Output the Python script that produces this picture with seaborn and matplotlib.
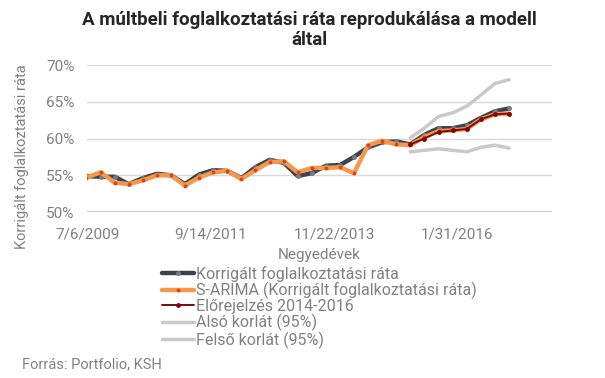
import numpy as np
import pandas as pd
import matplotlib.pyplot as plt
import matplotlib.ticker as mticker
import seaborn as sns

# Quarterly data, 2009 Q3 - 2017 Q1 (values in %)
quarters = pd.date_range("2009-07-01", periods=31, freq="QS")

korrigalt = [54.9, 54.8, 54.8, 53.8, 54.6, 55.2, 55.0, 53.8, 55.1, 55.7,
             55.6, 54.6, 56.1, 57.1, 56.7, 54.9, 55.3, 56.3, 56.4, 57.5,
             58.8, 59.5, 59.6, 59.2, 60.5, 61.4, 61.4, 61.8, 62.8, 63.7, 64.1]
sarima = [54.7, 55.4, 54.0, 53.8, 54.3, 55.0, 55.0, 53.6, 54.7, 55.4,
          55.6, 54.5, 55.7, 56.8, 56.9, 55.4, 56.0, 56.0, 56.1, 55.3,
          59.1, 59.7, 59.2, 59.1, 60.2, 61.0, 61.1, 61.3, 62.6, 63.3, 63.4]
# forecast and bounds start at 2015 Q2 (index 23)
fc_start = 23
elorejelzes = [59.2, 60.0, 60.9, 61.1, 61.3, 62.6, 63.3, 63.4]
also = [58.2, 58.4, 58.6, 58.4, 58.2, 58.8, 59.1, 58.7]
felso = [60.1, 61.4, 63.0, 63.5, 64.4, 65.9, 67.5, 68.0]

labels = ["Korrigált foglalkoztatási ráta",
          "S-ARIMA (Korrigált foglalkoztatási ráta)",
          "Előrejelzés 2014-2016",
          "Alsó korlát (95%)",
          "Felső korlát (95%)"]

sns.set_theme(style="white")
plt.rcParams["font.family"] = ["Roboto", "DejaVu Sans"]

gray_txt = "#808080"

fig = plt.figure(figsize=(6.05, 3.78), dpi=100)
ax = fig.add_axes([0.144, 0.439, 0.768, 0.389])

fc_dates = quarters[fc_start:]

sns.lineplot(x=fc_dates, y=also, ax=ax, color="#c9c9c9", linewidth=2.5,
             label=labels[3], legend=False)
sns.lineplot(x=fc_dates, y=felso, ax=ax, color="#c9c9c9", linewidth=2.5,
             label=labels[4], legend=False)
sns.lineplot(x=quarters, y=korrigalt, ax=ax, color="#3d424d", linewidth=3.2,
             marker="o", markersize=3.5, markerfacecolor="#6f7c8c",
             markeredgewidth=0, label=labels[0], legend=False)
sns.lineplot(x=quarters, y=sarima, ax=ax, color="#f29a4a", linewidth=3.2,
             marker="o", markersize=2.8, markerfacecolor="#e0401a",
             markeredgewidth=0, label=labels[1], legend=False)
sns.lineplot(x=fc_dates, y=elorejelzes, ax=ax, color="#7a0a0a", linewidth=1.4,
             marker="o", markersize=3.5, markerfacecolor="#8b0000",
             markeredgewidth=0, label=labels[2], legend=False)

ax.set_ylim(50, 70)
ax.yaxis.set_major_locator(mticker.MultipleLocator(5))
ax.yaxis.set_major_formatter(mticker.FuncFormatter(lambda v, p: f"{v:.0f}%"))

xmin = pd.Timestamp("2009-07-06")
ax.set_xlim(xmin, xmin + pd.Timedelta(days=3012))
ticks = [xmin + pd.Timedelta(days=800 * i) for i in range(4)]
ax.set_xticks(ticks)
ax.set_xticklabels([f"{t.month}/{t.day}/{t.year}" for t in ticks])

ax.grid(axis="y", color="#d9d9d9", linewidth=1)
ax.axhline(50, color="#bfbfbf", linewidth=1.2)
for s in ax.spines.values():
    s.set_visible(False)
ax.tick_params(axis="both", colors=gray_txt, labelsize=11, length=0)
ax.tick_params(axis="y", pad=9)
ax.tick_params(axis="x", pad=11)

ax.set_xlabel("Negyedévek", color=gray_txt, fontsize=11, labelpad=5)
ax.set_ylabel("Korrigált foglalkoztatási ráta", color=gray_txt, fontsize=10.5)
ax.yaxis.set_label_coords(-0.125, 0.38)

fig.suptitle("A múltbeli foglalkoztatási ráta reprodukálása a modell\náltal",
             x=0.512, y=0.972, fontsize=13.5, fontweight="bold",
             color="#262626", linespacing=1.15)

handles, labs = ax.get_legend_handles_labels()
order = [labs.index(l) for l in labels]
fig.legend([handles[i] for i in order], [labs[i] for i in order],
           loc="upper left", bbox_to_anchor=(0.268, 0.297), frameon=False,
           fontsize=11.5, labelcolor=gray_txt, handlelength=2.0,
           handletextpad=0.1, labelspacing=0.0, borderaxespad=0,
           borderpad=0)

fig.text(0.036, 0.025, "Forrás: Portfolio, KSH", color=gray_txt, fontsize=10.5)

fig.savefig("out.png", dpi=100)
